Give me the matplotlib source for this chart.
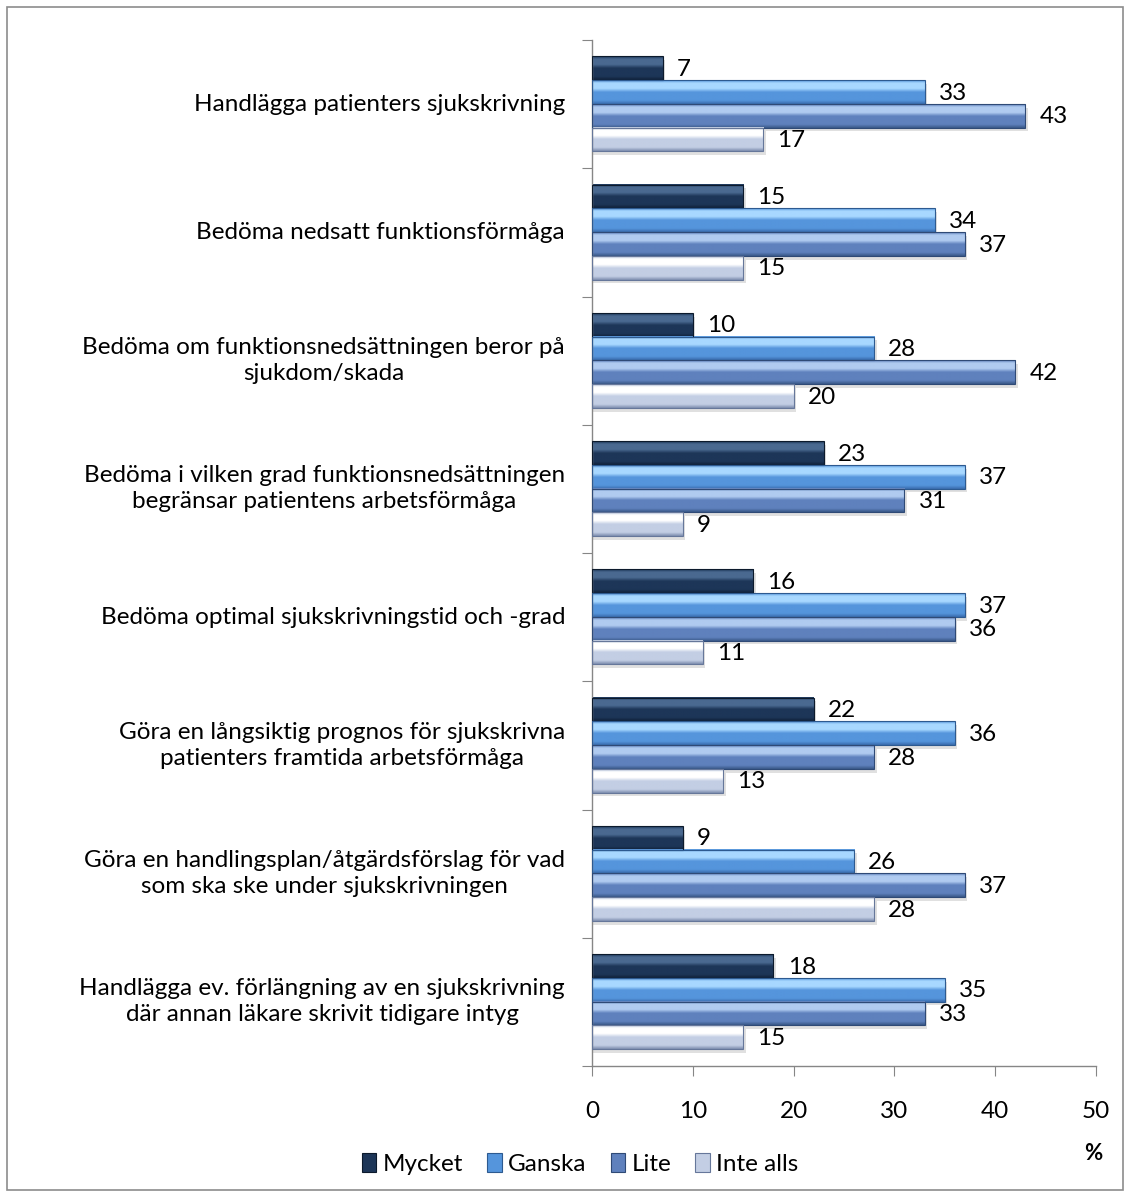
import numpy as np
import matplotlib.pyplot as plt
from matplotlib.colors import LinearSegmentedColormap
from matplotlib.patches import Rectangle

plt.rcParams['font.family'] = ['Lato', 'DejaVu Sans']

categories = [
    "Handlägga patienters sjukskrivning",
    "Bedöma nedsatt funktionsförmåga",
    "Bedöma om funktionsnedsättningen beror på\nsjukdom/skada",
    "Bedöma i vilken grad funktionsnedsättningen\nbegränsar patientens arbetsförmåga",
    "Bedöma optimal sjukskrivningstid och -grad",
    "Göra en långsiktig prognos för sjukskrivna\npatienters framtida arbetsförmåga",
    "Göra en handlingsplan/åtgärdsförslag för vad\nsom ska ske under sjukskrivningen",
    "Handlägga ev. förlängning av en sjukskrivning\ndär annan läkare skrivit tidigare intyg",
]
series_names = ["Mycket", "Ganska", "Lite", "Inte alls"]
mycket = [7, 15, 10, 23, 16, 22, 9, 18]
ganska = [33, 34, 28, 37, 37, 36, 26, 35]
lite = [43, 37, 42, 31, 36, 28, 37, 33]
inte_alls = [17, 15, 20, 9, 11, 13, 28, 15]
x_ticks = [0, 10, 20, 30, 40, 50]

FS = 17.5

# top-to-bottom shading of each bar: highlight, body, shadow
shades = [
    ["#4a6990", "#1d3658", "#10213a"],
    ["#a8d8ff", "#5595dc", "#3a6cad"],
    ["#b0cbf0", "#5f81bd", "#3a5989"],
    ["#ffffff", "#c3cee4", "#7f8fb0"],
]
edges = ["#0c1a2c", "#2d5a90", "#2f4a76", "#66779a"]

fig = plt.figure(figsize=(11.32, 11.96), dpi=100)
fig.patches.append(Rectangle((7 / 1132, 6 / 1196), 1116 / 1132, 1183 / 1196,
                             transform=fig.transFigure, fill=False,
                             edgecolor="#8c8c8c", linewidth=1.2))
ax = fig.add_axes([592 / 1132, 1 - 1066 / 1196, 504 / 1132, 1026 / 1196])

data = [mycket, ganska, lite, inte_alls]
bar_h = 0.185
first = 0.22
grad = np.linspace(0, 1, 64).reshape(-1, 1)
for k, (vals, sh) in enumerate(zip(data, shades)):
    cmap = LinearSegmentedColormap.from_list(
        series_names[k],
        [(0, sh[1]), (0.12, sh[0]), (0.35, sh[0]), (0.5, sh[1]),
         (0.85, sh[1]), (1, sh[2])])
    for i, v in enumerate(vals):
        yc = i + first + k * bar_h
        y0, y1 = yc - bar_h / 2, yc + bar_h / 2
        # drop shadow
        ax.add_patch(Rectangle((0, y0 + 0.03), v + 0.25, bar_h, facecolor="#000000",
                               alpha=0.12, linewidth=0, zorder=1))
        ax.imshow(grad, cmap=cmap, extent=[0, v, y1, y0], aspect='auto',
                  interpolation='bilinear', zorder=2)
        ax.add_patch(Rectangle((0, y0), v, bar_h, fill=False,
                               edgecolor=edges[k], linewidth=0.8, zorder=3))
        ax.text(v + 1.4, yc + 0.01, str(v), ha='left', va='center', fontsize=FS,
                color="#000000", zorder=4)

ax.set_xlim(0, 50)
ax.set_ylim(len(categories), 0)
for s in ['top', 'right']:
    ax.spines[s].set_visible(False)
for s in ['left', 'bottom']:
    ax.spines[s].set_color("#868686")
    ax.spines[s].set_linewidth(1.0)

ax.set_xticks(x_ticks)
ax.set_xticklabels([str(t) for t in x_ticks], fontsize=FS)
ax.tick_params(axis='x', direction='out', length=7, color="#868686", pad=18)

ax.set_yticks(np.arange(len(categories) + 1))
ax.set_yticklabels([])
ax.tick_params(axis='y', direction='out', length=7, color="#868686")

# category labels right-aligned left of the axis, wrapped lines centred
label_x = (565 - 592) / 504
for i, name in enumerate(categories):
    ax.text(label_x, i + 0.5, name, transform=ax.get_yaxis_transform(),
            ha='right', va='center', fontsize=FS, linespacing=1.28,
            multialignment='center', clip_on=False)

fig.text(1093 / 1132, 1 - 1153 / 1196, "%", ha='center', va='center',
         fontsize=16, fontweight='bold')

handles = [Rectangle((0, 0), 1, 1, facecolor=sh[1], edgecolor=e, linewidth=0.8)
           for sh, e in zip(shades, edges)]
fig.legend(handles, series_names, loc='center', bbox_to_anchor=(580 / 1132, 1 - 1164 / 1196),
           ncol=4, frameon=False, fontsize=FS, handlelength=0.6, handleheight=0.8,
           handletextpad=0.25, columnspacing=1.0)

fig.savefig("out.png", dpi=100, facecolor="white")
